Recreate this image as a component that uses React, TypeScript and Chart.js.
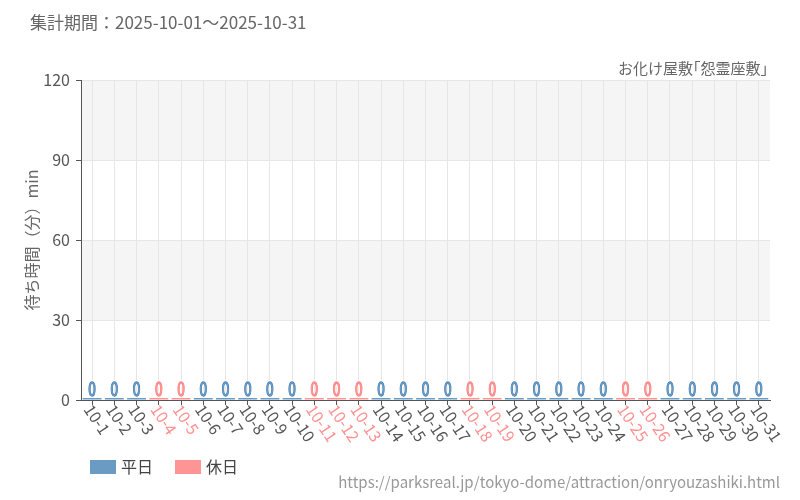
import React, { useEffect, useRef } from "react";
import { Chart, registerables } from "chart.js";

Chart.register(...registerables);

const categories = [
  "10-1", "10-2", "10-3", "10-4", "10-5", "10-6", "10-7", "10-8", "10-9", "10-10",
  "10-11", "10-12", "10-13", "10-14", "10-15", "10-16", "10-17", "10-18", "10-19", "10-20",
  "10-21", "10-22", "10-23", "10-24", "10-25", "10-26", "10-27", "10-28", "10-29", "10-30", "10-31",
];
const holidayFlags = [
  0, 0, 0, 1, 1, 0, 0, 0, 0, 0,
  1, 1, 1, 0, 0, 0, 0, 1, 1, 0,
  0, 0, 0, 0, 1, 1, 0, 0, 0, 0, 0,
];
const weekdayValues = [
  0, 0, 0, null, null, 0, 0, 0, 0, 0,
  null, null, null, 0, 0, 0, 0, null, null, 0,
  0, 0, 0, 0, null, null, 0, 0, 0, 0, 0,
];
const holidayValues = [
  null, null, null, 0, 0, null, null, null, null, null,
  0, 0, 0, null, null, null, null, 0, 0, null,
  null, null, null, null, 0, 0, null, null, null, null, null,
];
const yTicks = [0, 30, 60, 90, 120];
const seriesLabels = ["平日", "休日"];
const titleText = "集計期間：2025-10-01～2025-10-31";
const subtitleText = "お化け屋敷「怨霊座敷」";
const yTitleText = "待ち時間（分）min";
const urlText = "https://parksreal.jp/tokyo-dome/attraction/onryouzashiki.html";

const FONT = "'Noto Sans CJK JP', 'Noto Sans', sans-serif";
const BLUE = "#6a9bc3";
const PINK = "#ff9494";
const BLUE_TXT = "#3f7bb2";
const PINK_TXT = "#ff7a7a";
const GREY_TXT = "#555555";

function drawNarrowBracketText(ctx: any, text: string, rightX: number, y: number, size: number) {
  const parts: { s: string; w: number; off: number }[] = [];
  for (const ch of text) {
    if (ch === "「") parts.push({ s: ch, w: size * 0.5, off: -size * 0.5 });
    else if (ch === "」") parts.push({ s: ch, w: size * 0.5, off: 0 });
    else parts.push({ s: ch, w: ctx.measureText(ch).width, off: 0 });
  }
  const total = parts.reduce((a, p) => a + p.w, 0);
  let x = rightX - total;
  ctx.textAlign = "left";
  for (const p of parts) {
    ctx.fillText(p.s, x + p.off, y);
    x += p.w;
  }
}

const customPlugin = {
  id: "custom",
  beforeDraw(chart: any) {
    const { ctx, chartArea } = chart;
    const y = chart.scales.y;
    ctx.save();
    ctx.fillStyle = "#f5f5f5";
    const bands = [[90, 120], [30, 60]];
    for (const [a, b] of bands) {
      const y1 = y.getPixelForValue(b);
      const y2 = y.getPixelForValue(a);
      ctx.fillRect(chartArea.left, y1, chartArea.right - chartArea.left, y2 - y1);
    }
    ctx.restore();
  },
  afterDraw(chart: any) {
    const { ctx, chartArea } = chart;
    const x = chart.scales.x;
    ctx.save();
    chart.data.datasets.forEach((ds: any, di: number) => {
      const meta = chart.getDatasetMeta(di);
      meta.data.forEach((el: any, i: number) => {
        const v = ds.data[i];
        if (v === null || v === undefined) return;
        ctx.save();
        ctx.translate(el.x, el.y - 2);
        ctx.scale(0.72, 1);
        ctx.font = `19px ${FONT}`;
        ctx.textAlign = "center";
        ctx.textBaseline = "alphabetic";
        ctx.lineWidth = 4;
        ctx.strokeStyle = "#ffffff";
        ctx.strokeText(String(v), 0, 0);
        ctx.lineWidth = 1.3;
        ctx.strokeStyle = di === 0 ? BLUE_TXT : PINK_TXT;
        ctx.strokeText(String(v), 0, 0);
        ctx.fillStyle = di === 0 ? BLUE : PINK;
        ctx.fillText(String(v), 0, 0);
        ctx.restore();
      });
    });
    categories.forEach((c, i) => {
      const px = x.getPixelForValue(i);
      ctx.save();
      ctx.translate(px - 4, chartArea.bottom + 6);
      ctx.rotate((56 * Math.PI) / 180);
      ctx.font = `16px ${FONT}`;
      ctx.textAlign = "left";
      ctx.textBaseline = "middle";
      ctx.fillStyle = holidayFlags[i] ? "#ff8f8f" : GREY_TXT;
      ctx.fillText(c, 0, 0);
      ctx.restore();
    });
    ctx.font = `17px ${FONT}`;
    ctx.fillStyle = "#666666";
    ctx.textAlign = "left";
    ctx.textBaseline = "middle";
    ctx.fillText(titleText, 30, 23);
    ctx.font = `15px ${FONT}`;
    drawNarrowBracketText(ctx, subtitleText, 768, 68, 15);
    ctx.save();
    ctx.font = `16px ${FONT}`;
    ctx.translate(32, (chartArea.top + chartArea.bottom) / 2);
    ctx.rotate(-Math.PI / 2);
    ctx.textAlign = "center";
    ctx.textBaseline = "middle";
    ctx.fillText(yTitleText, 0, 0);
    ctx.restore();
    let lx = 90;
    chart.data.datasets.forEach((ds: any) => {
      ctx.fillStyle = ds.backgroundColor;
      ctx.fillRect(lx, 460, 26, 14);
      ctx.fillStyle = "#444444";
      ctx.font = `16px ${FONT}`;
      ctx.textAlign = "left";
      ctx.textBaseline = "middle";
      ctx.fillText(ds.label, lx + 31, 467);
      lx += 85;
    });
    ctx.font = `15px ${FONT}`;
    ctx.fillStyle = "#999999";
    ctx.textAlign = "right";
    ctx.textBaseline = "middle";
    ctx.fillText(urlText, 780, 482);
    ctx.restore();
  },
};

export default function App() {
  const ref = useRef<HTMLCanvasElement | null>(null);
  useEffect(() => {
    if (!ref.current) return;
    const chart = new Chart(ref.current, {
      type: "bar",
      data: {
        labels: categories,
        datasets: [
          { label: seriesLabels[0], data: weekdayValues as any, backgroundColor: BLUE, minBarLength: 2, barPercentage: 0.85, categoryPercentage: 1 },
          { label: seriesLabels[1], data: holidayValues as any, backgroundColor: PINK, minBarLength: 2, barPercentage: 0.85, categoryPercentage: 1 },
        ],
      },
      options: {
        animation: false,
        responsive: false,
        maintainAspectRatio: false,
        layout: { padding: { top: 80, right: 30, left: 0, bottom: 0 } },
        plugins: { legend: { display: false }, tooltip: { enabled: false }, title: { display: false } },
        scales: {
          x: {
            stacked: true,
            ticks: { display: false },
            grid: { offset: false, color: "#e6e6e6", tickColor: "#555555", tickLength: 5 },
            border: { color: "#555555" },
            afterFit: (s: any) => { s.height = 100; },
          },
          y: {
            stacked: true,
            min: 0,
            max: 120,
            afterBuildTicks: (s: any) => { s.ticks = yTicks.map((v) => ({ value: v })); },
            ticks: { color: GREY_TXT, font: { size: 16, family: FONT }, padding: 6 },
            grid: { color: "#e6e6e6", tickColor: "#555555", tickLength: 5 },
            border: { color: "#555555" },
            afterFit: (s: any) => { s.width = 81; },
          },
        },
      },
      plugins: [customPlugin],
    });
    return () => chart.destroy();
  }, []);
  return (
    <div style={{ position: "absolute", left: 0, top: 0, width: 800, height: 500, background: "#fff" }}>
      <canvas ref={ref} width={800} height={500} style={{ width: 800, height: 500 }} />
    </div>
  );
}
